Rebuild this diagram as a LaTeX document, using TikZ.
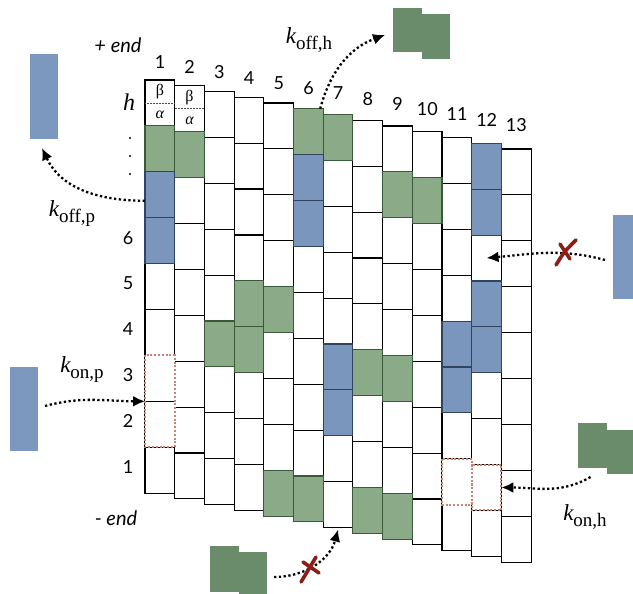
\documentclass[tikz,border=0pt]{standalone}
\usepackage{fontspec}
\setmainfont{Liberation Serif}
\newfontfamily\gill{Lato}
\usetikzlibrary{arrows.meta}
\definecolor{cellgreen}{RGB}{139,170,135}
\definecolor{cellgreenb}{RGB}{58,88,58}
\definecolor{cellblue}{RGB}{123,150,188}
\definecolor{cellblueb}{RGB}{48,68,98}
\definecolor{molblue}{RGB}{125,152,190}
\definecolor{molgreen}{RGB}{107,140,107}
\definecolor{dashred}{RGB}{202,132,112}
\definecolor{xred}{RGB}{140,30,20}
\newcommand\klab[2]{{\fontsize{23}{23}\selectfont\itshape #1}\raisebox{-6pt}{\fontsize{19}{19}\selectfont #2}}
\begin{document}
\begin{tikzpicture}[x=1pt,y=-1pt,
  cell/.style={draw=black,line width=1.1pt,fill=white,minimum width=29.7pt,minimum height=45.9pt,inner sep=0pt,outer sep=0pt,anchor=north west},
  gcell/.style={draw=cellgreenb,line width=1.1pt,fill=cellgreen},
  bcell/.style={draw=cellblueb,line width=1.1pt,fill=cellblue},
  dashbox/.style={draw=dashred,line width=2pt,dash pattern=on 2pt off 1.8pt},
  mol/.style={inner sep=0pt,outer sep=0pt,anchor=north west},
  conn/.style={draw=black,line width=2.3pt,dash pattern=on 2.3pt off 2.5pt,-{Latex[length=12pt,width=11pt]}},
  xmark/.style={draw=xred,line width=3.6pt,line cap=round},
  colnum/.style={font=\gill\fontsize{18}{18}\selectfont,inner sep=0pt},
  endlab/.style={font=\gill\itshape\fontsize{20}{20}\selectfont,inner sep=0pt},
  greek/.style={font=\fontsize{16}{16}\selectfont,inner sep=0pt},
  klabel/.style={inner sep=0pt}]
\useasboundingbox (0,0) rectangle (633,594);
\fill[white] (0,0) rectangle (633,594);

% cells
\foreach \c in {1,...,13}{
  \foreach \r in {0,...,8}{
    \pgfmathsetmacro\xx{145+(\c-1)*29.7}
    \pgfmathsetmacro\yy{80+(\c-1)*5.75+\r*45.9}
    \node[cell] (b-\c-\r) at (\xx,\yy) {};
  }
}
% coloured cells
\foreach \c/\r/\s in {1/1/gcell,2/1/gcell,3/5/gcell,4/4/gcell,4/5/gcell,5/4/gcell,5/8/gcell,
  6/0/gcell,6/8/gcell,7/0/gcell,8/5/gcell,8/8/gcell,9/1/gcell,9/5/gcell,9/8/gcell,10/1/gcell,
  1/2/bcell,1/3/bcell,6/1/bcell,6/2/bcell,7/5/bcell,7/6/bcell,11/4/bcell,11/5/bcell,
  12/0/bcell,12/1/bcell,12/3/bcell,12/4/bcell}{
  \draw[\s] (b-\c-\r.north west) rectangle (b-\c-\r.south east);
}
% dashed (free) sites
\fill[white] (b-1-6.north west) rectangle (b-1-7.south east);
\draw[black,line width=1.1pt] (b-1-6.south west) -- (b-1-6.south east);
\draw[dashbox] (b-1-6.north west) rectangle (b-1-7.south east);
\fill[white] (b-11-7.north west) rectangle (b-11-7.south east);
\fill[white] (b-12-7.north west) rectangle (b-12-7.south east);
\draw[dashbox] (b-11-7.north west) rectangle (b-11-7.south east);
\draw[dashbox] (b-12-7.north west) rectangle (b-12-7.south east);

% beta / alpha
\foreach \c in {1,2}{
  \draw[black!70,line width=0.5pt,densely dotted] (b-\c-0.west) -- (b-\c-0.east);
  \node[greek] (beta\c) at ([yshift=11pt]b-\c-0.center) {β};
  \node[greek] (alpha\c) at ([yshift=-12pt]b-\c-0.center) {\itshape α};
}

% column numbers
\foreach \c in {1,...,13}{
  \pgfmathsetmacro\xx{145+(\c-1)*29.7+15}
  \pgfmathsetmacro\yy{62+(\c-1)*5.25}
  \node[colnum] (n\c) at (\xx,\yy) {\c};
}
% row labels
\node[font=\fontsize{24}{24}\selectfont\itshape,inner sep=0pt] (hlab) at ([xshift=-16pt,yshift=1pt]b-1-0.west) {h};
\fill (130,138) circle (1.2pt);
\fill (130,156) circle (1.2pt);
\fill (130,174) circle (1.2pt);
\foreach \r/\l in {3/6,4/5,5/4,6/3,7/2,8/1}{
  \node[colnum] (r\l) at ([xshift=-17pt,yshift=3pt]b-1-\r.west) {\l};
}
\node[endlab] (pend) at (118,45) {+ end};
\node[endlab] (mend) at (116,518) {- end};

% free molecules
\node[mol,fill=molblue,minimum width=28pt,minimum height=85pt] (mp1) at (30,54) {};
\node[mol,fill=molblue,minimum width=28pt,minimum height=84pt] (mp2) at (10,367) {};
\node[mol,fill=molblue,minimum width=29pt,minimum height=84pt] (mp3) at (613,215) {};
\node[mol,fill=molgreen,minimum width=29pt,minimum height=44pt] (ga1) at (393,8) {};
\node[mol,fill=molgreen,minimum width=28pt,minimum height=45pt] (ga2) at (422,14) {};
\node[mol,fill=molgreen,minimum width=29pt,minimum height=45pt] (gb1) at (578,423) {};
\node[mol,fill=molgreen,minimum width=29pt,minimum height=44pt] (gb2) at (607,430) {};
\node[mol,fill=molgreen,minimum width=29pt,minimum height=46pt] (gc1) at (210,546) {};
\node[mol,fill=molgreen,minimum width=28pt,minimum height=44pt] (gc2) at (239,552) {};

% connectors
\draw[conn] ([yshift=-6pt]b-1-2.west) to[out=180,in=-65] ([xshift=-2pt,yshift=-9pt]mp1.south);
\draw[conn] ([xshift=7pt,yshift=3pt]mp2.east) to[out=15,in=180] (b-1-7.north west);
\draw[conn] ([xshift=-3pt]b-6-0.north east) to[out=75,in=200] ([xshift=-8pt,yshift=-5pt]ga1.west);
\draw[conn] ([xshift=-8pt,yshift=-3pt]mp3.west) to[out=165,in=5] (b-12-2.center);
\draw[conn] ([xshift=-2pt,yshift=-9pt]gb1.south) to[out=-150,in=0] (b-12-7.east);
\draw[conn] ([xshift=7pt,yshift=-3pt]gc2.east) to[out=0,in=-105] ([yshift=-2pt]b-7-8.south);

% blocked marks
\coordinate (xa) at (566,252);
\draw[xmark] ([shift={(-10,13)}]xa) .. controls ([shift={(-2,0)}]xa) .. ([shift={(10,-12)}]xa);
\draw[xmark] ([shift={(-6,-8)}]xa) -- ([shift={(4,7)}]xa);
\coordinate (xb) at (310,570);
\draw[xmark] ([shift={(-9,12)}]xb) .. controls ([shift={(-2,0)}]xb) .. ([shift={(6,-13)}]xb);
\draw[xmark] ([shift={(-7,-8)}]xb) -- ([shift={(9,3)}]xb);

% rate labels
\node[klabel] (koffp) at (72,214) {\klab{k}{off,p}};
\node[klabel] (konp) at (82,370) {\klab{k}{on,p}};
\node[klabel] (koffh) at (309,40) {\klab{k}{off,h}};
\node[klabel] (konh) at (585,517) {\klab{k}{on,h}};
\end{tikzpicture}
\end{document}
